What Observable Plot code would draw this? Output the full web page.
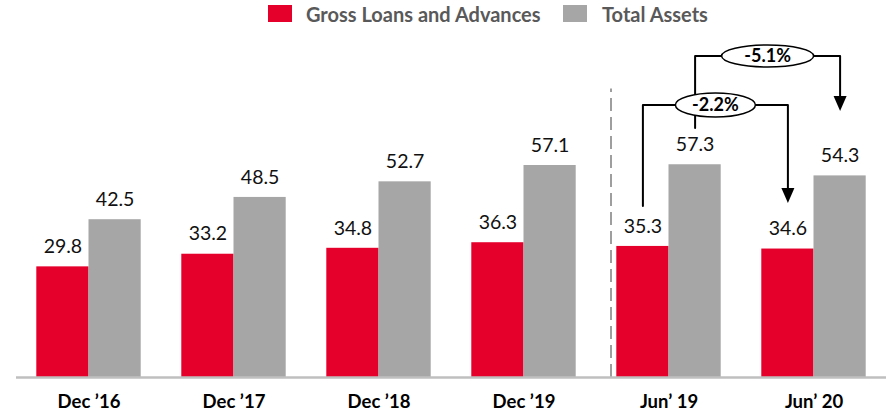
<!DOCTYPE html>
<html><head><meta charset="utf-8">
<script src="https://cdn.jsdelivr.net/npm/d3@7"></script>
<script src="https://cdn.jsdelivr.net/npm/@observablehq/plot@0.6"></script>
<style>
body{margin:0;background:#fff;font-family:Lato,sans-serif;}
#legend{position:relative;height:28px;width:888px;}
#legend .sw{position:absolute;top:5px;width:24px;height:17px;}
#legend .lb{position:absolute;top:1px;font-size:20px;font-weight:bold;color:#595959;line-height:26px;white-space:nowrap;}
</style></head><body>
<div id="legend"></div>
<div id="chart"></div>
<script>
// ---- data ----
const periods = ["Dec \u201916", "Dec \u201917", "Dec \u201918", "Dec \u201919", "Jun\u2019 19", "Jun\u2019 20"];
const loans  = [29.8, 33.2, 34.8, 36.3, 35.3, 34.6];
const assets = [42.5, 48.5, 52.7, 57.1, 57.3, 54.3];
const seriesNames  = ["Gross Loans and Advances", "Total Assets"];
const seriesColors = ["#E4002B", "#A6A6A6"];

// change annotations (Jun'19 -> Jun'20)
const changeLabels = ["-2.2%", "-5.1%"];
const changeSeries = [0, 1];          // 0 = loans, 1 = assets
const changeLevel  = [73.4, 86.6];    // bracket height (value units)
const changeStart  = [46.2, 67.2];    // left leg bottom
const changeEnd    = [47.0, 71.8];    // arrow tip
const changeFrom = 4, changeTo = 5;
const dividerX = 3.6, dividerTop = 77.7;

// ---- legend ----
const legend = document.getElementById("legend");
const legendPos = [[268, 306], [563, 602]];
seriesNames.forEach((n, i) => {
  const s = document.createElement("div"); s.className = "sw";
  s.style.left = legendPos[i][0] + "px"; s.style.background = seriesColors[i];
  const t = document.createElement("div"); t.className = "lb";
  t.style.left = legendPos[i][1] + "px"; t.textContent = n;
  legend.append(s, t);
});

// ---- rows ----
const BW = 0.36;
const rows = [];
periods.forEach((p, i) => {
  rows.push({i, s: 0, v: loans[i],  x1: i - BW, x2: i, color: seriesColors[0]});
  rows.push({i, s: 1, v: assets[i], x1: i, x2: i + BW, color: seriesColors[1]});
});
const center = (i, s) => s === 0 ? i - BW / 2 : i + BW / 2;

const bracketPts = [];
const ellipses = [];
const tips = [];
changeLabels.forEach((lab, k) => {
  const s = changeSeries[k];
  const xl = center(changeFrom, s), xr = center(changeTo, s);
  bracketPts.push({k, x: xl, y: changeStart[k]}, {k, x: xl, y: changeLevel[k]},
                  {k, x: xr, y: changeLevel[k]}, {k, x: xr, y: changeEnd[k] + 2});
  ellipses.push({k, x: (xl + xr) / 2, y: changeLevel[k], label: lab});
  tips.push({k, x: xr, y: changeEnd[k]});
});

function ellipseSymbol(rx, ry) {
  const c = 0.5523;
  return {draw(ctx) {
    ctx.moveTo(rx, 0);
    ctx.bezierCurveTo(rx, ry * c, rx * c, ry, 0, ry);
    ctx.bezierCurveTo(-rx * c, ry, -rx, ry * c, -rx, 0);
    ctx.bezierCurveTo(-rx, -ry * c, -rx * c, -ry, 0, -ry);
    ctx.bezierCurveTo(rx * c, -ry, rx, -ry * c, rx, 0);
    ctx.closePath();
  }};
}
const arrowHead = {draw(ctx) {
  ctx.moveTo(-6.5, -15); ctx.lineTo(6.5, -15); ctx.lineTo(0, 0); ctx.closePath();
}};

const chart = Plot.plot({
  width: 888, height: 388,
  marginTop: 0, marginBottom: 39, marginLeft: 16, marginRight: 2,
  style: {fontFamily: "Lato, sans-serif", background: "white"},
  x: {domain: [-0.5, 5.5]},
  y: {domain: [0, 94], axis: null},
  marks: [
    Plot.ruleX([dividerX], {y1: 0, y2: dividerTop, stroke: "#7F7F7F", strokeWidth: 1.5, strokeDasharray: "13,6"}),
    Plot.rect(rows, {x1: "x1", x2: "x2", y1: 0, y2: "v", fill: "color"}),
    Plot.ruleY([0], {stroke: "#BFBFBF", strokeWidth: 2.5}),
    Plot.text(rows, {x: d => (d.x1 + d.x2) / 2, y: "v", text: d => d.v.toFixed(1), dy: -20,
      lineAnchor: "middle", fontSize: 19.5, fill: "#111"}),
    Plot.line(bracketPts, {x: "x", y: "y", z: "k", stroke: "black", strokeWidth: 2}),
    Plot.dot(tips, {x: "x", y: "y", symbol: arrowHead, r: 5, fill: "black", stroke: "none"}),
    Plot.dot(ellipses.filter(d => d.k === 0), {x: "x", y: "y", symbol: ellipseSymbol(40, 12), r: 5,
      fill: "white", stroke: "black", strokeWidth: 1.5}),
    Plot.dot(ellipses.filter(d => d.k === 1), {x: "x", y: "y", symbol: ellipseSymbol(46, 11), r: 5,
      fill: "white", stroke: "black", strokeWidth: 1.5}),
    Plot.text(ellipses, {x: "x", y: "y", text: "label", fontSize: 18, fontWeight: "bold", fill: "black", lineAnchor: "middle"}),
    Plot.axisX(periods.map((_, i) => i), {tickFormat: i => periods[i], tickSize: 0, tickPadding: 17,
      fontSize: 18.5, fontWeight: "bold", fill: "black"})
  ]
});
document.getElementById("chart").append(chart);
</script>
</body></html>
